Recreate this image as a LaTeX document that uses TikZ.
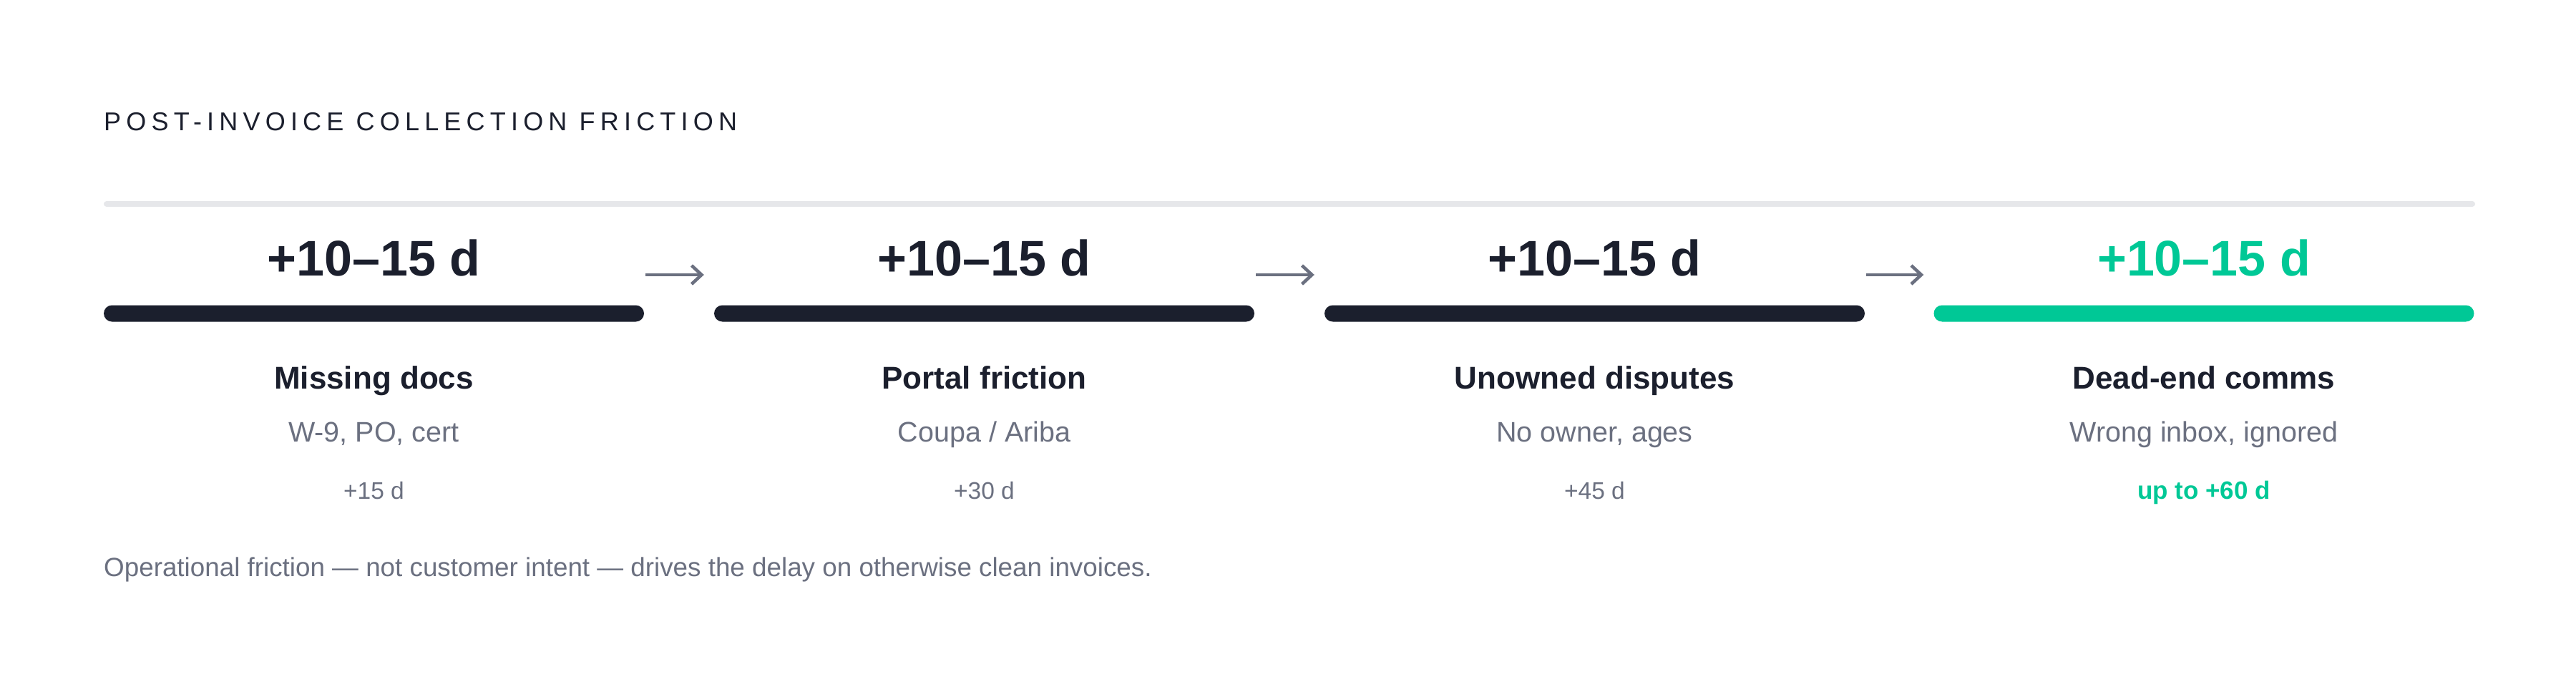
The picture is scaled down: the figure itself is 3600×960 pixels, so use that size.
\documentclass[tikz,border=0pt]{standalone}
\usepackage{fontspec}
\setmainfont{Liberation Sans}
\newfontfamily\trackfont[LetterSpace=20]{Liberation Sans}
\usetikzlibrary{arrows.meta}
\definecolor{ink}{HTML}{1B1F2D}
\definecolor{mute}{HTML}{6B7080}
\definecolor{accent}{HTML}{00C896}
\definecolor{rulegray}{HTML}{E6E7EA}
\tikzset{
  sttitle/.style={anchor=base west, inner sep=0pt, font=\trackfont\fontsize{36}{42}\selectfont, text=ink},
  stnum/.style={anchor=base, inner sep=0pt, font=\fontsize{70}{80}\selectfont\bfseries, text=ink},
  sthead/.style={anchor=base, inner sep=0pt, font=\fontsize{44}{50}\selectfont\bfseries, text=ink},
  stsub/.style={anchor=base, inner sep=0pt, font=\fontsize{39.5}{46}\selectfont, text=mute},
  stnote/.style={anchor=base, inner sep=0pt, font=\fontsize{33.5}{40}\selectfont, text=mute},
  stnotehi/.style={anchor=base, inner sep=0pt, font=\fontsize{35}{40}\selectfont\bfseries, text=accent},
  stfoot/.style={anchor=base west, inner sep=0pt, font=\fontsize{36.8}{44}\selectfont, text=mute},
  stbar/.style={fill=ink, rounded corners=11.5pt, minimum width=755pt, minimum height=23pt, inner sep=0pt, draw=none},
  stflow/.style={draw=mute, line width=4.5pt, -{Straight Barb[length=14pt,width=26pt,line width=4.5pt]}},
}
\begin{document}
\begin{tikzpicture}[x=1pt,y=1pt]
\fill[white] (0,0) rectangle (3600,-960);
\useasboundingbox (0,0) rectangle (3600,-960);

\node[sttitle] (title) at (145,-183) {POST-INVOICE COLLECTION FRICTION};

\coordinate (rl) at (149,-285);
\coordinate (rr) at (3455,-285);
\draw[rulegray, line width=8pt, line cap=round] (rl) -- (rr);

% stage 1
\node[stnum] (n1) at (522.5,-385) {+10–15 d};
\node[stbar] (b1) at (522.5,-438) {};
\node[sthead] (h1) at (522.5,-543) {Missing docs};
\node[stsub] (s1) at (522.5,-617) {W-9, PO, cert};
\node[stnote] (m1) at (522.5,-697) {+15 d};

% stage 2
\node[stnum] (n2) at (1375.5,-385) {+10–15 d};
\node[stbar] (b2) at (1375.5,-438) {};
\node[sthead] (h2) at (1375.5,-543) {Portal friction};
\node[stsub] (s2) at (1375.5,-617) {Coupa / Ariba};
\node[stnote] (m2) at (1375.5,-697) {+30 d};

% stage 3
\node[stnum] (n3) at (2228.5,-385) {+10–15 d};
\node[stbar] (b3) at (2228.5,-438) {};
\node[sthead] (h3) at (2228.5,-543) {Unowned disputes};
\node[stsub] (s3) at (2228.5,-617) {No owner, ages};
\node[stnote] (m3) at (2228.5,-697) {+45 d};

% stage 4
\node[stnum, text=accent] (n4) at (3080,-385) {+10–15 d};
\node[stbar, fill=accent] (b4) at (3080,-438) {};
\node[sthead] (h4) at (3080,-543) {Dead-end comms};
\node[stsub] (s4) at (3080,-617) {Wrong inbox, ignored};
\node[stnotehi] (m4) at (3080,-697) {up to +60 d};

% arrows
\draw[stflow] ([xshift=2pt]b1.east |- 0,-384) -- ([xshift=-14pt]b2.west |- 0,-384);
\draw[stflow] ([xshift=2pt]b2.east |- 0,-384) -- ([xshift=-14pt]b3.west |- 0,-384);
\draw[stflow] ([xshift=2pt]b3.east |- 0,-384) -- ([xshift=-14pt]b4.west |- 0,-384);

\node[stfoot] (foot) at (145,-805) {Operational friction — not customer intent — drives the delay on otherwise clean invoices.};
\end{tikzpicture}
\end{document}
